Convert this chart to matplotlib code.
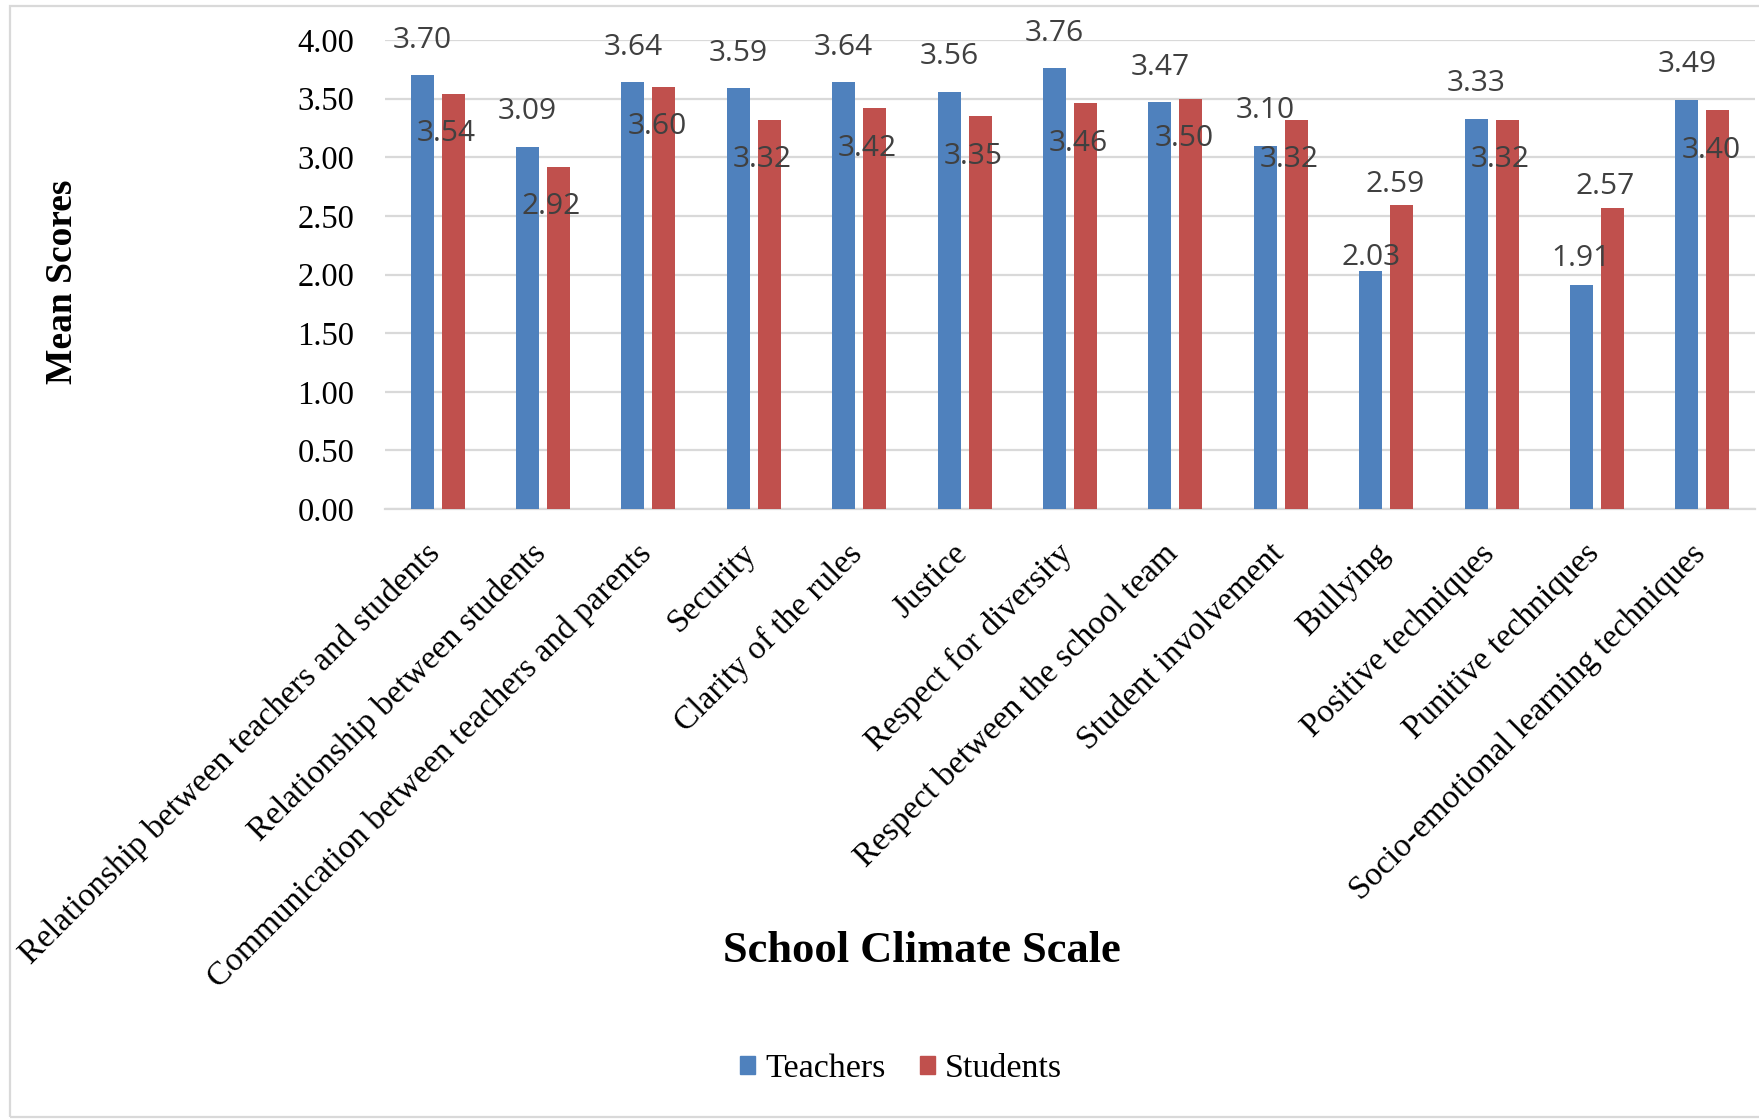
import matplotlib
matplotlib.use("Agg")
import matplotlib.pyplot as plt
from matplotlib.patches import Rectangle
from matplotlib.transforms import ScaledTranslation
import numpy as np

# ---- data ----
categories = [
    "Relationship between teachers and students",
    "Relationship between students",
    "Communication between teachers and parents",
    "Security",
    "Clarity of the rules",
    "Justice",
    "Respect for diversity",
    "Respect between the school team",
    "Student involvement",
    "Bullying",
    "Positive techniques",
    "Punitive techniques",
    "Socio-emotional learning techniques",
]
teachers = [3.70, 3.09, 3.64, 3.59, 3.64, 3.56, 3.76, 3.47, 3.10, 2.03, 3.33, 1.91, 3.49]
students = [3.54, 2.92, 3.60, 3.32, 3.42, 3.35, 3.46, 3.50, 3.32, 2.59, 3.32, 2.57, 3.40]
y_ticks = [0.0, 0.5, 1.0, 1.5, 2.0, 2.5, 3.0, 3.5, 4.0]

# ---- style ----
BLUE = "#4f81bd"
RED = "#c0504d"
GRID = "#d9d9d9"
LABEL_GREY = "#404040"
SERIF = "Liberation Serif"
SANS = "Open Sans"
W, H, DPI = 1759, 1120, 100

# label placement (pixels above/below the bar top), a few were dragged by hand
TEACHER_LIFT = {"Bullying": 13, "Punitive techniques": 27}
STUDENT_LABEL_ABOVE = {"Bullying", "Punitive techniques"}

fig = plt.figure(figsize=(W / DPI, H / DPI), dpi=DPI)
fig.patch.set_facecolor("white")

# chart-area border (right edge runs off the image)
fig.add_artist(Rectangle((10 / W, 3 / H), 1.0, 1 - 9 / H, transform=fig.transFigure,
                         fill=False, ec=GRID, lw=1.6))

ax = fig.add_axes([385 / W, 1 - 509 / H, (1755 - 385) / W, (509 - 40) / H])

x = np.arange(len(categories))
off, bw = 0.147, 0.218
ax.bar(x - off, teachers, bw, color=BLUE, zorder=3)
ax.bar(x + off, students, bw, color=RED, zorder=3)

ax.set_xlim(-0.5, len(categories) - 0.5)
ax.set_ylim(0, 4)
ax.yaxis.grid(True, color=GRID, lw=1.6)
ax.set_axisbelow(True)
for side in ("top", "right", "left"):
    ax.spines[side].set_visible(False)
ax.spines["bottom"].set_color(GRID)
ax.spines["bottom"].set_linewidth(1.6)

ax.set_yticks(y_ticks)
ax.set_yticklabels([f"{v:.2f}" for v in y_ticks], fontsize=23.5, family=SERIF)
ax.tick_params(axis="y", length=0, pad=22)

ax.set_xticks(x)
ax.set_xticklabels(categories, rotation=45, ha="right", va="top",
                   fontsize=24, family=SERIF)
ax.tick_params(axis="x", length=0, pad=21)
shift = ScaledTranslation(9 / DPI, 0, fig.dpi_scale_trans)
for lbl in ax.get_xticklabels():
    lbl.set_transform(lbl.get_transform() + shift)

# data labels
for i, (cat, t, s) in enumerate(zip(categories, teachers, students)):
    ax.annotate(f"{t:.2f}", (i - off, t), xytext=(0, TEACHER_LIFT.get(cat, 35)),
                textcoords="offset pixels", ha="center", va="center",
                fontsize=21.5, family=SANS, color=LABEL_GREY)
    dy = 21 if cat in STUDENT_LABEL_ABOVE else -40
    ax.annotate(f"{s:.2f}", (i + off, s), xytext=(-7, dy), textcoords="offset pixels",
                ha="center", va="center", fontsize=21.5, family=SANS, color=LABEL_GREY,
                zorder=4)

fig.text(922 / W, 1 - 951 / H, "School Climate Scale", ha="center", va="center",
         fontsize=32, weight="bold", family=SERIF)
fig.text(62 / W, 1 - 282 / H, "Mean Scores", ha="center", va="center", rotation=90,
         fontsize=27, weight="bold", family=SERIF)

handles = [Rectangle((0, 0), 1, 1, color=BLUE), Rectangle((0, 0), 1, 1, color=RED)]
fig.legend(handles, ["Teachers", "Students"], loc="center",
           bbox_to_anchor=(901 / W, 1 - 1069 / H), ncol=2, frameon=False,
           prop={"family": SERIF, "size": 24.5}, handlelength=0.45, handleheight=0.45,
           handletextpad=0.3, columnspacing=1.0)

fig.savefig("out.png", dpi=DPI)
